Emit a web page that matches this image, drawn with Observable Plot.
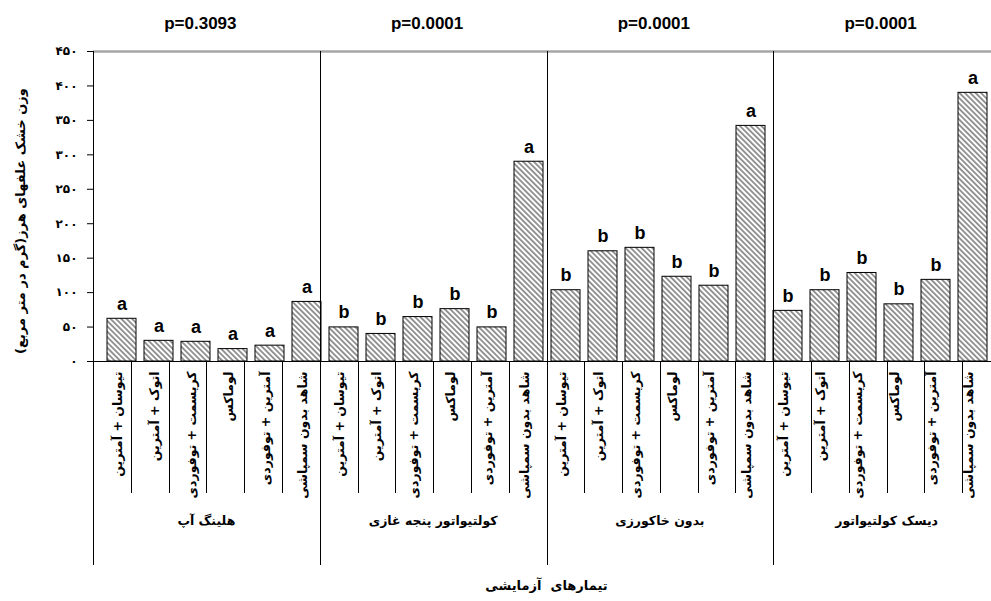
<!DOCTYPE html>
<html><head><meta charset="utf-8">
<script src="https://cdn.jsdelivr.net/npm/d3@7"></script>
<script src="https://cdn.jsdelivr.net/npm/@observablehq/plot@0.6"></script>
<style>
body{margin:0;overflow:hidden;background:#fff;}
</style></head><body><div id="chart"></div>
<script>
const groups = ["هلینگ آپ", "کولتیواتور پنجه غازی", "بدون خاکورزی", "دیسک کولتیواتور"];
const treatments = ["تیوسان + آمترین", "اتوک + آمترین", "کریسمت + توفوردی", "لوماکس", "آمترین + توفوردی", "شاهد بدون سمپاشی"];
const pValues = ["p=0.3093", "p=0.0001", "p=0.0001", "p=0.0001"];
const weightHelling = [62, 30, 28.6, 18, 23, 86.5];
const weightGoosefoot = [49.5, 40, 64.5, 76, 49.5, 290];
const weightNoTill = [103.5, 160, 165, 123, 110, 342];
const weightDisc = [73.5, 103.5, 128.5, 83, 118.5, 390];
const letterHelling = ["a", "a", "a", "a", "a", "a"];
const letterGoosefoot = ["b", "b", "b", "b", "b", "a"];
const letterNoTill = ["b", "b", "b", "b", "b", "a"];
const letterDisc = ["b", "b", "b", "b", "b", "a"];
const yTicks = [0, 50, 100, 150, 200, 250, 300, 350, 400, 450];
const yTitle = "وزن خشک علفهای هرز(گرم در متر مربع)";
const xTitle = "تیمارهای  آزمایشی";

const weights = [weightHelling, weightGoosefoot, weightNoTill, weightDisc];
const letters = [letterHelling, letterGoosefoot, letterNoTill, letterDisc];
const data = [];
groups.forEach((g, gi) => treatments.forEach((t, ti) => data.push({
  group: g, gi, treatment: t, ti, key: gi + "|" + ti, value: weights[gi][ti], letter: letters[gi][ti]
})));
const keys = data.map(d => d.key);
const fa = v => String(v).replace(/\d/g, c => "۰۱۲۳۴۵۶۷۸۹"[c]);
const faFont = "'DejaVu Sans', sans-serif";
const latFont = "'Liberation Sans', Arial, sans-serif";

const plot = Plot.plot({
  width: 991, height: 601,
  marginLeft: 93, marginRight: 0, marginTop: 51, marginBottom: 240,
  style: {fontFamily: faFont, fontSize: "12px", background: "#fff", overflow: "hidden"},
  x: {type: "band", domain: keys, range: [93, 1000], paddingInner: 0.22, paddingOuter: 0.11, axis: null},
  y: {domain: [0, 450], axis: null},
  marks: [
    Plot.ruleY([450], {stroke: "#a6a6a6", strokeWidth: 2.5}),
    Plot.barY(data, {x: "key", y: "value", fill: "url(#hatch)", stroke: "#000", strokeWidth: 1}),
    Plot.text(data, {x: "key", y: "value", text: "letter", lineAnchor: "bottom", dy: -9,
      fontSize: 18, fontWeight: "bold", fontFamily: latFont, fill: "#000"}),
    Plot.axisY({ticks: yTicks, tickFormat: fa, tickSize: 6, tickPadding: 10, fontSize: 12, fontWeight: "bold", stroke: "#000", label: null}),
    Plot.ruleY([0], {stroke: "#000", strokeWidth: 1}),
    Plot.text(data, {x: "key", text: "treatment", frameAnchor: "bottom", rotate: -90, textAnchor: "end", dy: 10,
      fontSize: 12.5, fontWeight: "bold", fill: "#000"})
  ]
});
document.getElementById("chart").appendChild(plot);

const svg = d3.select(plot);
const defs = svg.insert("defs", ":first-child");
const pat = defs.append("pattern").attr("id", "hatch").attr("patternUnits", "userSpaceOnUse")
  .attr("width", 3.8).attr("height", 3.8).attr("patternTransform", "rotate(-45)");
pat.append("rect").attr("width", 3.8).attr("height", 3.8).attr("fill", "#fff");
pat.append("rect").attr("width", 1.8).attr("height", 3.8).attr("fill", "#8c8c8c");

const xs = plot.scale("x"), ysd = plot.scale("y");
const x = d3.scaleBand(xs.domain, xs.range).paddingInner(xs.paddingInner).paddingOuter(xs.paddingOuter).align(xs.align ?? 0.5);
const y = d3.scaleLinear(ysd.domain, ysd.range);
const step = x.step(), bw = x.bandwidth();
const boundary = k => x(k) - (step - bw) / 2;
const y0 = y(0), yTop = y(450);
const g = svg.append("g").attr("stroke", "#000").attr("stroke-width", 1);
data.forEach(d => {
  const bx = Math.round(boundary(d.key)) + 0.5;
  if (d.ti === 0) g.append("line").attr("x1", bx).attr("x2", bx).attr("y1", yTop).attr("y2", y0 + 204);
  else g.append("line").attr("x1", bx).attr("x2", bx).attr("y1", y0).attr("y2", y0 + 132);
});
const tg = svg.append("g").attr("fill", "#000").attr("font-weight", "bold").attr("text-anchor", "middle");
groups.forEach((grp, gi) => {
  const cx = boundary(gi + "|0") + 3 * step;
  tg.append("text").attr("x", cx).attr("y", y0 + 160).attr("dy", "0.35em")
    .attr("font-size", 12.5).attr("font-family", faFont).text(grp);
  tg.append("text").attr("x", cx - 6).attr("y", 23).attr("dy", "0.35em")
    .attr("font-size", 17).attr("font-family", latFont).text(pValues[gi]);
});
tg.append("text").attr("transform", `translate(20,${(y0 + yTop) / 2 + 15}) rotate(-90)`).attr("dy", "0.35em")
  .attr("font-size", 13).attr("font-family", faFont).text(yTitle);
tg.append("text").attr("x", (xs.range[0] + xs.range[1]) / 2).attr("y", y0 + 224).attr("dy", "0.35em")
  .attr("font-size", 13).attr("font-family", faFont).text(xTitle);
</script></body></html>
